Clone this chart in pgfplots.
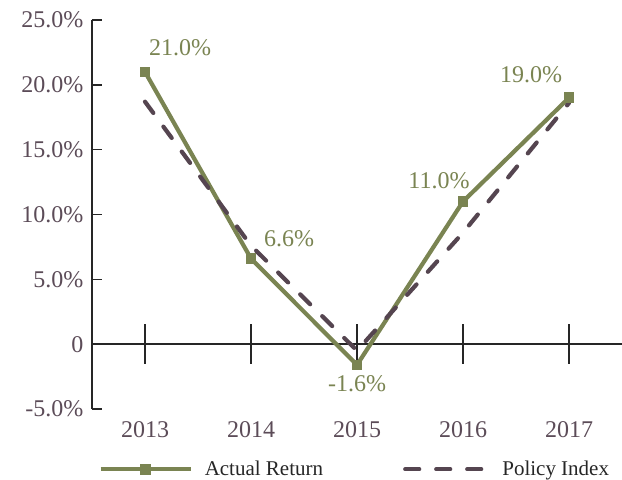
\documentclass[border=0pt]{standalone}
\usepackage{pgfplots}
\pgfplotsset{compat=1.18}
\usetikzlibrary{calc}
\usepackage{fontspec}
\setmainfont{Liberation Serif}
\definecolor{olive}{RGB}{122,132,82}
\definecolor{plum}{RGB}{85,69,80}
\definecolor{ticktext}{RGB}{92,76,88}
\pgfplotsset{
  actleg/.style={legend image code/.code={\draw[##1, mark repeat=2, mark phase=2] plot coordinates {(0pt,0pt) (45pt,0pt) (90pt,0pt)};\path (100pt,0pt);}},
  polleg/.style={legend image code/.code={\draw[##1] (2pt,0pt) -- (83pt,0pt);\path (95pt,0pt);}},
}
\begin{document}
\begin{tikzpicture}[font=\fontsize{24}{28}\selectfont]
\begin{axis}[
  name=ax,
  scale only axis,
  width=530pt, height=389pt,
  xmin=-0.5, xmax=4.5,
  ymin=-5, ymax=25,
  axis y line*=left,
  axis x line*=bottom,
  x axis line style={draw=none},
  y axis line style={line width=1.6pt, color=black!85},
  xtick={0,1,2,3,4},
  xticklabels={2013,2014,2015,2016,2017},
  xtick style={draw=none},
  ytick={-5,0,5,10,15,20,25},
  yticklabels={-5.0\%,0,5.0\%,10.0\%,15.0\%,20.0\%,25.0\%},
  ytick style={line width=1.6pt, color=black!85},
  ytick align=inside,
  major tick length=10pt,
  tick label style={text=ticktext},
  xticklabel style={yshift=-9pt},
  yticklabel style={xshift=-5pt},
  clip=false,
  legend columns=2,
  legend style={draw=none, fill=none, at={(axis description cs:0.012,-0.155)}, anchor=west,
    inner sep=0pt, font=\fontsize{21}{24}\selectfont, text=black!85,
    /tikz/every even column/.append style={column sep=78pt}},
  legend cell align=left,
]
\draw[line width=1.6pt, black!85] (axis cs:-0.5,0) -- (axis cs:4.5,0);
\draw[line width=1.6pt, black!85] (axis cs:0,0) ++(0pt,20pt) -- ++(0pt,-40pt);
\draw[line width=1.6pt, black!85] (axis cs:1,0) ++(0pt,20pt) -- ++(0pt,-40pt);
\draw[line width=1.6pt, black!85] (axis cs:2,0) ++(0pt,20pt) -- ++(0pt,-40pt);
\draw[line width=1.6pt, black!85] (axis cs:3,0) ++(0pt,20pt) -- ++(0pt,-40pt);
\draw[line width=1.6pt, black!85] (axis cs:4,0) ++(0pt,20pt) -- ++(0pt,-40pt);
\addplot[color=olive, line width=4.2pt, mark=square*, mark size=4.8pt, mark options={solid, line width=1pt}, actleg]
  coordinates {(0,21.0) (1,6.6) (2,-1.6) (3,11.0) (4,19.0)};
\addlegendentry{Actual Return}
\addplot[color=plum, line width=4.2pt, dash pattern=on 14pt off 17pt, line cap=round, polleg]
  coordinates {(0,18.7) (1,7.6) (2,-0.5) (3,8.6) (4,18.6)};
\addlegendentry{Policy Index}
\node[text=olive, anchor=center] at ($(axis cs:0,21.0)+(35pt,24pt)$) {21.0\%};
\node[text=olive, anchor=center] at ($(axis cs:1,6.6)+(38pt,20pt)$) {6.6\%};
\node[text=olive, anchor=center] at ($(axis cs:2,-1.6)+(0pt,-19pt)$) {-1.6\%};
\node[text=olive, anchor=center] at ($(axis cs:3,11.0)+(-24pt,21pt)$) {11.0\%};
\node[text=olive, anchor=center] at ($(axis cs:4,19.0)+(-38pt,23pt)$) {19.0\%};
\end{axis}
\pgfresetboundingbox
\path[use as bounding box] ($(ax.south west)+(-92pt,-70pt)$) rectangle ($(ax.north east)+(0pt,20pt)$);
\end{tikzpicture}
\end{document}
